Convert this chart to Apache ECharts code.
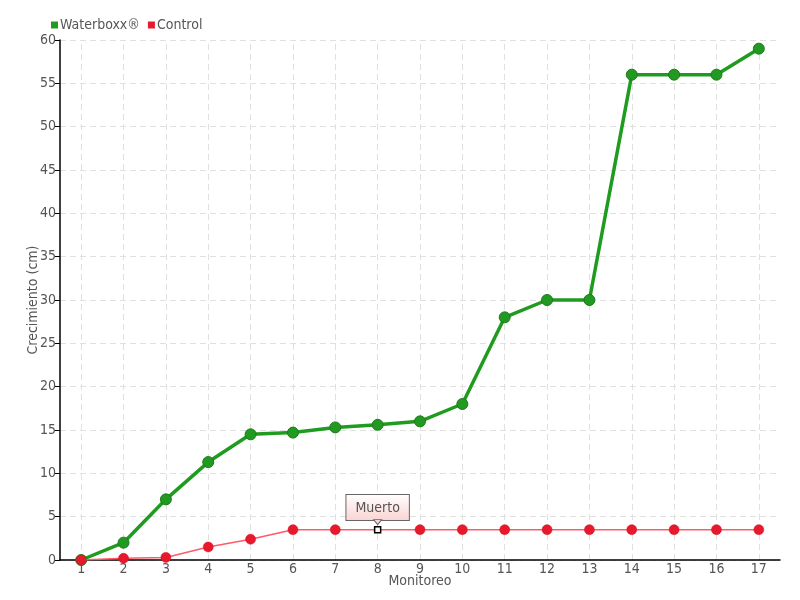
<!DOCTYPE html>
<html><head><meta charset="utf-8">
<script src="https://cdn.jsdelivr.net/npm/echarts@6/dist/echarts.min.js"></script>
<style>html,body{margin:0;padding:0;background:#fff}#c{width:800px;height:600px}</style>
</head><body><div id="c"></div>
<script>
const categories = ['1','2','3','4','5','6','7','8','9','10','11','12','13','14','15','16','17'];
const waterboxx = [0, 2, 7, 11.3, 14.5, 14.7, 15.3, 15.6, 16, 18, 28, 30, 30, 56, 56, 56, 59];
const control = [0, 0.2, 0.3, 1.5, 2.4, 3.5, 3.5, 3.5, 3.5, 3.5, 3.5, 3.5, 3.5, 3.5, 3.5, 3.5, 3.5];
const yTicks = [0, 5, 10, 15, 20, 25, 30, 35, 40, 45, 50, 55, 60];
const noteIndex = 7;
const noteText = 'Muerto';

const FONT = '"DejaVu Sans Condensed", sans-serif';
const FS = 14;
const TXT = '#555';

const controlData = control.map((v, i) => i === noteIndex ? {
  value: v,
  symbol: 'rect',
  symbolSize: 6,
  itemStyle: { color: '#fff', borderColor: '#000', borderWidth: 1.5 },
  label: {
    show: true, position: 'top', distance: 6,
    formatter: noteText,
    fontFamily: FONT, fontSize: FS, color: TXT,
    backgroundColor: { type: 'linear', x: 0, y: 0, x2: 0, y2: 1,
      colorStops: [{ offset: 0, color: '#ffffff' }, { offset: 1, color: '#fbd3d3' }] },
    borderColor: '#666', borderWidth: 1,
    padding: [6, 9, 5, 9]
  }
} : v);

const chart = echarts.init(document.getElementById('c'), null, { renderer: 'canvas' });
chart.setOption({
  animation: false,
  textStyle: { fontFamily: FONT },
  legend: {
    left: 46, top: 13, itemWidth: 7, itemHeight: 7, itemGap: 8,
    icon: 'rect',
    itemStyle: { borderWidth: 0 },
    textStyle: { fontFamily: FONT, fontSize: FS, color: TXT, padding: [0, 0, 0, -3] },
    data: ['Waterboxx®', 'Control']
  },
  grid: { left: 60, right: 20, top: 40, bottom: 40, outerBoundsMode: 'none', containLabel: false },
  xAxis: {
    type: 'category', data: categories, boundaryGap: true,
    name: 'Monitoreo', nameLocation: 'middle', nameGap: 14, nameMoveOverlap: false,
    nameTextStyle: { fontFamily: FONT, fontSize: FS, color: TXT },
    axisLine: { lineStyle: { color: '#000', width: 1.5 } },
    axisTick: { alignWithLabel: true, length: 4, lineStyle: { color: '#000' } },
    axisLabel: { fontFamily: FONT, fontSize: FS, color: TXT, margin: 2, interval: 0 },
    splitLine: { show: false }
  },
  yAxis: {
    type: 'value', min: 0, max: 60, interval: 5,
    name: 'Crecimiento (cm)', nameLocation: 'middle', nameGap: 20, nameMoveOverlap: false,
    nameTextStyle: { fontFamily: FONT, fontSize: FS, color: TXT },
    axisLine: { show: true, lineStyle: { color: '#000', width: 1.5 } },
    axisTick: { show: true, length: 5, lineStyle: { color: '#000' } },
    axisLabel: { fontFamily: FONT, fontSize: FS, color: TXT, margin: 4,
      formatter: v => yTicks.includes(v) ? String(v) : '' },
    splitLine: { lineStyle: { color: '#e0e0e0', type: [6, 4] } }
  },
  series: [
    {
      name: 'Waterboxx®', type: 'line', data: waterboxx,
      symbol: 'circle', symbolSize: 11,
      lineStyle: { color: '#1f9c1f', width: 3.5 },
      itemStyle: { color: '#229a22', borderColor: '#1a7a1a', borderWidth: 1 },
      z: 2,
      markLine: {
        silent: true, symbol: 'none', label: { show: false },
        lineStyle: { color: '#e0e0e0', type: [6, 4], width: 1 },
        z: 0,
        data: categories.map(c => ({ xAxis: c }))
      }
    },
    {
      name: 'Control', type: 'line', data: controlData,
      symbol: 'circle', symbolSize: 10,
      lineStyle: { color: '#ff5a66', width: 1.5 },
      itemStyle: { color: '#e8192c', borderColor: '#d01020', borderWidth: 0.5 },
      z: 3,
      markPoint: {
        silent: true,
        data: [{ coord: [categories[noteIndex], control[noteIndex]], symbol: 'triangle',
          symbolRotate: 180, symbolSize: [8, 5], symbolOffset: [0, -7.5],
          itemStyle: { color: '#fcd6d6', borderColor: '#666', borderWidth: 1 },
          label: { show: false } }]
      }
    }
  ],
  color: ['#1fa01f', '#ee1133']
});
</script></body></html>
